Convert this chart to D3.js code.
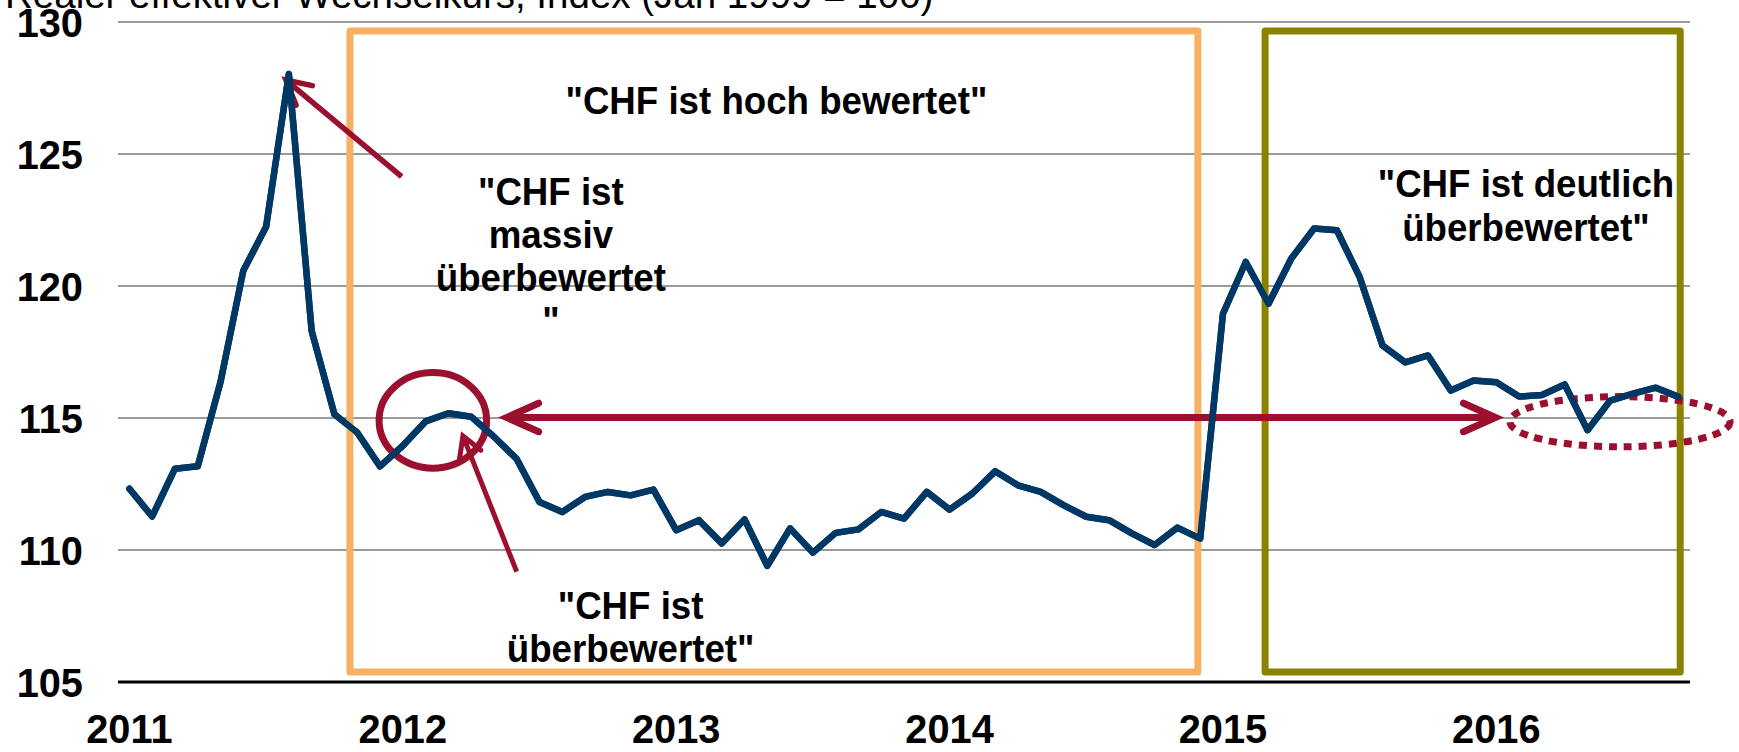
<!DOCTYPE html>
<html>
<head>
<meta charset="utf-8">
<script src="https://cdn.jsdelivr.net/npm/d3@7"></script>
<style>
  html, body { margin: 0; padding: 0; background: #fff; overflow: hidden; }
  svg { display: block; }
  text { font-family: "Liberation Sans", Arial, sans-serif; }
</style>
</head>
<body>
<svg id="chart" width="1739" height="752"></svg>
<script>
// ---------------- DATA ----------------
const months = [
  "2011-01","2011-02","2011-03","2011-04","2011-05","2011-06","2011-07","2011-08","2011-09","2011-10","2011-11","2011-12",
  "2012-01","2012-02","2012-03","2012-04","2012-05","2012-06","2012-07","2012-08","2012-09","2012-10","2012-11","2012-12",
  "2013-01","2013-02","2013-03","2013-04","2013-05","2013-06","2013-07","2013-08","2013-09","2013-10","2013-11","2013-12",
  "2014-01","2014-02","2014-03","2014-04","2014-05","2014-06","2014-07","2014-08","2014-09","2014-10","2014-11","2014-12",
  "2015-01","2015-02","2015-03","2015-04","2015-05","2015-06","2015-07","2015-08","2015-09","2015-10","2015-11","2015-12",
  "2016-01","2016-02","2016-03","2016-04","2016-05","2016-06","2016-07","2016-08","2016-09"
];
const rer = [
  112.32, 111.27, 113.08, 113.17, 116.37, 120.58, 122.24, 128.03, 118.30, 115.14, 114.45, 113.17,
  113.95, 114.87, 115.18, 115.05, 114.29, 113.45, 111.82, 111.44, 112.01, 112.20, 112.07, 112.29,
  110.75, 111.13, 110.25, 111.16, 109.40, 110.82, 109.90, 110.65, 110.78, 111.44, 111.19, 112.20,
  111.53, 112.14, 112.98, 112.45, 112.20, 111.70, 111.26, 111.13, 110.63, 110.19, 110.85, 110.43,
  118.95, 120.91, 119.33, 121.04, 122.18, 122.11, 120.34, 117.75, 117.11, 117.37, 116.04, 116.42,
  116.35, 115.81, 115.87, 116.27, 114.54, 115.66, 115.92, 116.15, 115.80
];
const yTicks = [105, 110, 115, 120, 125, 130];
const xTickMonths = ["2011-01","2012-01","2013-01","2014-01","2015-01","2016-01"];
const xTickLabels = ["2011","2012","2013","2014","2015","2016"];
const titleText = "Realer effektiver Wechselkurs, Index (Jan 1999 = 100)";

// annotation texts
const txtHoch = ["\"CHF ist hoch bewertet\""];
const txtMassiv = ["\"CHF ist", "massiv", "überbewertet", "\""];
const txtUeber = ["\"CHF ist", "überbewertet\""];
const txtDeutlich = ["\"CHF ist deutlich", "überbewertet\""];

// ---------------- LAYOUT ----------------
const svg = d3.select("#chart");
const L = 118, R = 1690, T = 22, B = 682;
const x = d3.scalePoint().domain(months).range([L, R]).padding(0.5);
// continuous month-index scale for annotations
const xi = d3.scaleLinear().domain([0, months.length - 1]).range([x(months[0]), x(months[months.length - 1])]);
const y = d3.scaleLinear().domain([105, 130]).range([B, T]);

const RED = "#9B0F2F", NAVY = "#003865", ORANGE = "#F6B066", OLIVE = "#8B8200";

// narrow the glyphs a little (the original font is slightly condensed)
function condense(sel, f) {
  sel.each(function () {
    const w = this.getComputedTextLength();
    d3.select(this).attr("textLength", w * f).attr("lengthAdjust", "spacingAndGlyphs");
  });
}

// title (cut off at top, as in the original)
svg.append("text").attr("x", 5).attr("y", 8)
  .attr("font-size", 38.5).attr("fill", "#000").text(titleText);

// gridlines
svg.append("g").selectAll("line").data(yTicks.filter(d => d !== 105)).join("line")
  .attr("x1", L).attr("x2", R).attr("y1", d => y(d)).attr("y2", d => y(d))
  .attr("stroke", "#7a7a7a").attr("stroke-width", 1.6);

// y tick labels
const yl = svg.append("g").selectAll("text").data(yTicks).join("text")
  .attr("x", 83).attr("y", d => y(d)).attr("text-anchor", "end").attr("dy", "0.37em")
  .attr("font-size", 41).attr("font-weight", "bold").attr("fill", "#000")
  .text(d3.format("d"));
condense(yl, 0.97);

// x tick labels
const xl = svg.append("g").selectAll("text").data(xTickMonths).join("text")
  .attr("x", d => x(d)).attr("y", B + 61).attr("text-anchor", "middle")
  .attr("font-size", 41).attr("font-weight", "bold").attr("fill", "#000")
  .text((d, i) => xTickLabels[i]);
condense(xl, 0.97);

// baseline axis (105)
svg.append("line").attr("x1", L).attr("x2", R).attr("y1", y(105)).attr("y2", y(105))
  .attr("stroke", "#000").attr("stroke-width", 3);

// series line
const line = d3.line().x((d, i) => x(months[i])).y(d => y(d));
svg.append("path").datum(rer).attr("d", line)
  .attr("fill", "none").attr("stroke", NAVY).attr("stroke-width", 6.5)
  .attr("stroke-linejoin", "round").attr("stroke-linecap", "round");

// boxes (month index / value coordinates)
const boxes = [
  { i0: 9.68, i1: 46.9, v0: 105.38, v1: 129.66, color: ORANGE },
  { i0: 49.85, i1: 68.07, v0: 105.38, v1: 129.66, color: OLIVE }
];
svg.append("g").selectAll("rect").data(boxes).join("rect")
  .attr("x", d => xi(d.i0)).attr("y", d => y(d.v1))
  .attr("width", d => xi(d.i1) - xi(d.i0)).attr("height", d => y(d.v0) - y(d.v1))
  .attr("fill", "none").attr("stroke", d => d.color).attr("stroke-width", 7)
  .attr("stroke-linejoin", "round");

// red annotations
const ann = svg.append("g");
function arrowHead(x1, y1, x2, y2, len, angDeg, width) {
  const a = Math.atan2(y1 - y2, x1 - x2);
  const ang = angDeg * Math.PI / 180;
  const p1 = [x2 + len * Math.cos(a + ang), y2 + len * Math.sin(a + ang)];
  const p2 = [x2 + len * Math.cos(a - ang), y2 + len * Math.sin(a - ang)];
  ann.append("path").attr("d", `M${p1[0]},${p1[1]}L${x2},${y2}L${p2[0]},${p2[1]}`)
    .attr("fill", "none").attr("stroke", RED).attr("stroke-width", width)
    .attr("stroke-linecap", "round").attr("stroke-linejoin", "miter");
}
function arrow(a, len, ang, width) {
  const x1 = xi(a.i0), y1 = y(a.v0), x2 = xi(a.i1), y2 = y(a.v1);
  ann.append("line").attr("x1", x1).attr("y1", y1).attr("x2", x2).attr("y2", y2)
    .attr("stroke", RED).attr("stroke-width", width);
  arrowHead(x1, y1, x2, y2, len, ang, width);
  if (a.both) arrowHead(x2, y2, x1, y1, len, ang, width);
}
arrow({ i0: 11.95, v0: 124.14, i1: 6.87, v1: 127.80 }, 27, 28, 5.5);
arrow({ i0: 17.0, v0: 109.18, i1: 14.64, v1: 114.32 }, 23, 30, 5);
arrow({ i0: 16.56, v0: 115.02, i1: 59.96, v1: 115.02, both: true }, 35, 24, 7);

// circle around 2012 hump
ann.append("ellipse").attr("cx", xi(13.32)).attr("cy", y(114.91))
  .attr("rx", xi(13.32 + 2.36) - xi(13.32)).attr("ry", y(114.91) - y(114.91 + 1.81))
  .attr("fill", "none").attr("stroke", RED).attr("stroke-width", 7);

// dotted ellipse
ann.append("ellipse").attr("cx", xi(65.43)).attr("cy", y(114.86))
  .attr("rx", xi(65.43 + 4.83) - xi(65.43)).attr("ry", y(114.86) - y(114.86 + 0.95))
  .attr("fill", "none").attr("stroke", RED).attr("stroke-width", 7)
  .attr("stroke-dasharray", "8 7");

// series line drawn again over the red shapes
svg.append("path").datum(rer).attr("d", line)
  .attr("fill", "none").attr("stroke", NAVY).attr("stroke-width", 6.5)
  .attr("stroke-linejoin", "round").attr("stroke-linecap", "round");

// annotation texts (one text element per line)
function block(lines, ci, baseV, lh) {
  const g = svg.append("g");
  const ts = g.selectAll("text").data(lines).join("text")
    .attr("x", xi(ci)).attr("y", (d, k) => y(baseV) + k * lh)
    .attr("text-anchor", "middle")
    .attr("font-size", 39).attr("font-weight", "bold").attr("fill", "#000")
    .text(d => d);
  condense(ts, 0.94);
}
block(txtHoch, 28.4, 126.52, 43);
block(txtMassiv, 18.5, 123.05, 43);
block(txtUeber, 22.0, 107.4, 43);
block(txtDeutlich, 61.3, 123.38, 44);
</script>
</body>
</html>
